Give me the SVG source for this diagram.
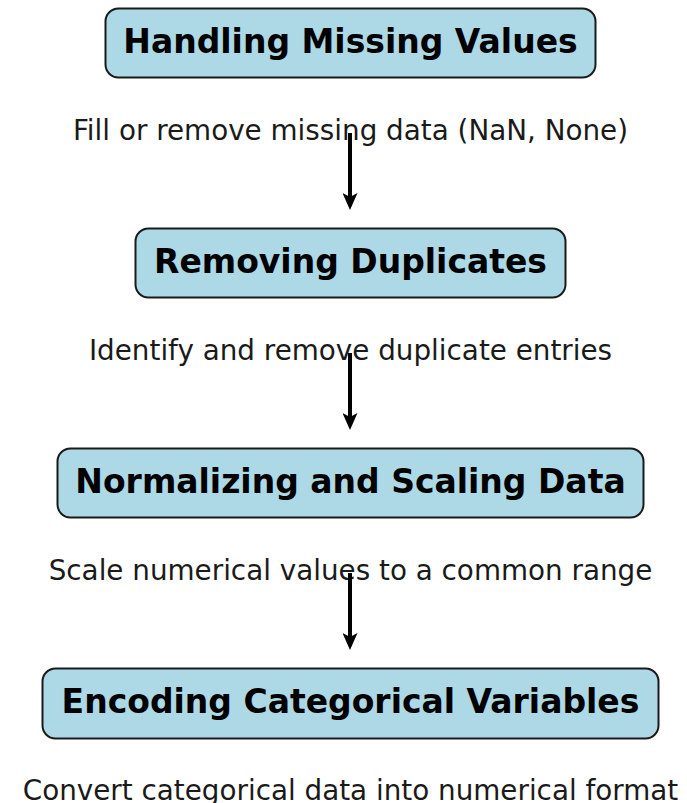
<svg xmlns="http://www.w3.org/2000/svg" width="687" height="803" viewBox="0 0 687 803">
  <style>
    .box { fill: #add8e6; stroke: #1a1a1a; stroke-width: 2; }
    .title { font-family: "DejaVu Sans", sans-serif; font-weight: bold; font-size: 33px; fill: #000; text-anchor: middle; }
    .desc { font-family: "DejaVu Sans", sans-serif; font-size: 27.8px; fill: #1a1a1a; text-anchor: middle; }
    .arrow { stroke: #000; stroke-width: 4; fill: none; }
  </style>
  <defs>
    <marker id="head" markerUnits="userSpaceOnUse" markerWidth="17" markerHeight="15" refX="7" refY="7.5" orient="auto" viewBox="0 0 17 15">
      <path d="M0,0 L17,7.5 L0,15 L4,7.5 Z" fill="#000"/>
    </marker>
  </defs>
  <rect width="687" height="803" fill="#fff"/>

  <g id="step-missing">
    <rect class="box" x="105.5" y="8.5" width="490" height="69" rx="13"/>
    <text class="title" x="350.5" y="53">Handling Missing Values</text>
    <text class="desc" x="350.5" y="139.5">Fill or remove missing data (NaN, None)</text>
  </g>

  <g id="step-duplicates">
    <rect class="box" x="135.5" y="228.5" width="430" height="69" rx="13"/>
    <text class="title" x="350.5" y="273">Removing Duplicates</text>
    <text class="desc" x="350.5" y="359.5">Identify and remove duplicate entries</text>
  </g>

  <g id="step-scaling">
    <rect class="box" x="57.5" y="448.5" width="586" height="69" rx="13"/>
    <text class="title" x="350.5" y="493">Normalizing and Scaling Data</text>
    <text class="desc" x="350.5" y="579.5">Scale numerical values to a common range</text>
  </g>

  <g id="step-encoding">
    <rect class="box" x="42.5" y="668.5" width="616" height="70" rx="13"/>
    <text class="title" x="350.5" y="713">Encoding Categorical Variables</text>
    <text class="desc" x="350.5" y="799.5">Convert categorical data into numerical format</text>
  </g>

  <g id="connectors">
    <line class="arrow" x1="350" y1="133" x2="350" y2="200" marker-end="url(#head)"/>
    <line class="arrow" x1="350" y1="353" x2="350" y2="420" marker-end="url(#head)"/>
    <line class="arrow" x1="350" y1="573" x2="350" y2="640" marker-end="url(#head)"/>
  </g>
</svg>
